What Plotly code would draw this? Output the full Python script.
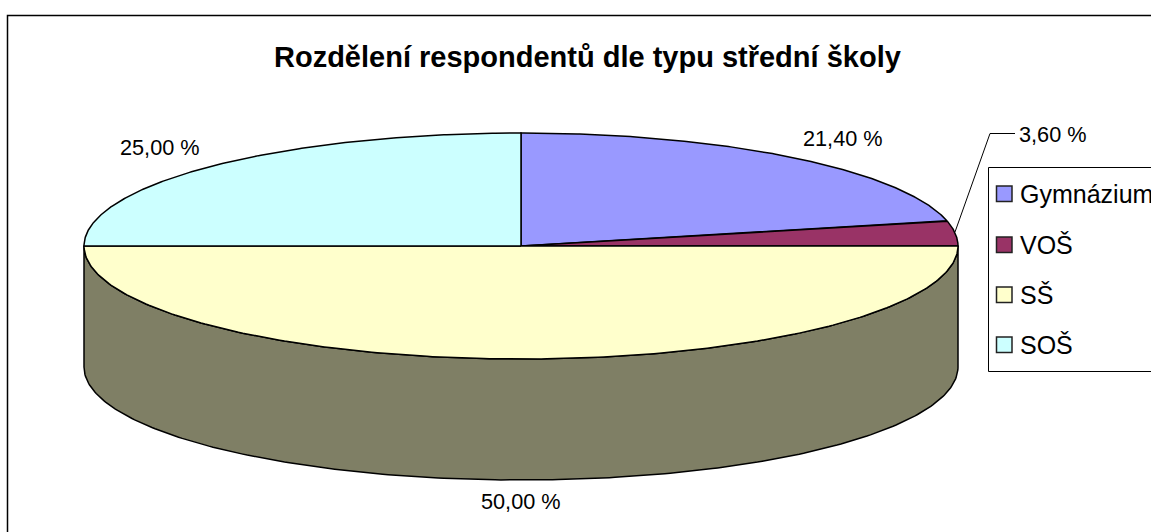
import numpy as np
import plotly.graph_objects as go

categories = ["Gymnázium", "VOŠ", "SŠ", "SOŠ"]
values = [21.4, 3.6, 50.0, 25.0]
value_labels = ["21,40 %", "3,60 %", "50,00 %", "25,00 %"]
top_colors = ["#9999FF", "#993366", "#FFFFCC", "#CCFFFF"]
wall_color = "#7F7F65"
title = "Rozdělení respondentů dle typu střední školy"

FONT = "Liberation Sans, Arial, sans-serif"
CX, CY, RX, RY, DEPTH = 521, 246, 437, 113, 121
W, H = 1151, 532

fractions = np.cumsum([0] + values) / sum(values)


def rim(a, b, dy=0.0):
    t = np.linspace(a, b, 240) * 2 * np.pi
    return CX + RX * np.sin(t), CY - RY * np.cos(t) + dy


fig = go.Figure()

# side wall of the half that faces the viewer (the SŠ slice)
x_low, y_low = rim(fractions[2], fractions[3], DEPTH)
x_up, y_up = rim(fractions[2], fractions[3])
fig.add_trace(go.Scatter(
    x=np.r_[x_up, x_low[::-1], x_up[0]], y=np.r_[y_up, y_low[::-1], y_up[0]],
    mode="lines", fill="toself", fillcolor=wall_color,
    line=dict(color="black", width=1.5), hoverinfo="skip", showlegend=False))

# top face slices
for i, name in enumerate(categories):
    x, y = rim(fractions[i], fractions[i + 1])
    fig.add_trace(go.Scatter(
        x=np.r_[CX, x, CX], y=np.r_[CY, y, CY], mode="lines", fill="toself",
        fillcolor=top_colors[i], line=dict(color="black", width=1.5),
        name=name, showlegend=False, hoverinfo="name"))

# leader line for the small slice
fig.add_trace(go.Scatter(x=[955, 990, 1015], y=[232, 133.5, 133.5], mode="lines",
                         line=dict(color="black", width=1),
                         hoverinfo="skip", showlegend=False))

shapes = [
    dict(type="rect", x0=7.5, y0=15.5, x1=1175, y1=560, line=dict(color="black", width=1.5)),
    dict(type="rect", x0=988.5, y0=167.5, x1=1175, y1=371.5,
         line=dict(color="black", width=1), fillcolor="white", layer="below"),
]
annotations = [dict(x=587, y=57, text=f"<b>{title}</b>", showarrow=False,
                    font=dict(family=FONT, size=29, color="black"))]

label_pos = [(843, 138), (1053, 134), (521, 501), (160, 147)]
for txt, (lx, ly) in zip(value_labels, label_pos):
    annotations.append(dict(x=lx, y=ly, text=txt, showarrow=False,
                            font=dict(family=FONT, size=21.7, color="black")))

legend_y = [194, 245, 295, 345]
for name, col, ly in zip(categories, top_colors, legend_y):
    shapes.append(dict(type="rect", x0=996.5, x1=1012, y0=ly - 8, y1=ly + 7.5,
                       fillcolor=col, line=dict(color="#222222", width=1.5)))
    annotations.append(dict(x=1018, y=ly, text=name, showarrow=False, xanchor="left",
                            font=dict(family=FONT, size=25, color="black")))

fig.update_layout(
    width=W, height=H, margin=dict(l=0, r=0, t=0, b=0),
    paper_bgcolor="white", plot_bgcolor="white", showlegend=False,
    xaxis=dict(range=[0, W], visible=False, fixedrange=True),
    yaxis=dict(range=[H, 0], visible=False, fixedrange=True),
    shapes=shapes, annotations=annotations,
)
fig.write_html("out.html", config=dict(displayModeBar=False),
               post_script="document.body.style.margin='0';document.body.style.overflow='hidden';")
